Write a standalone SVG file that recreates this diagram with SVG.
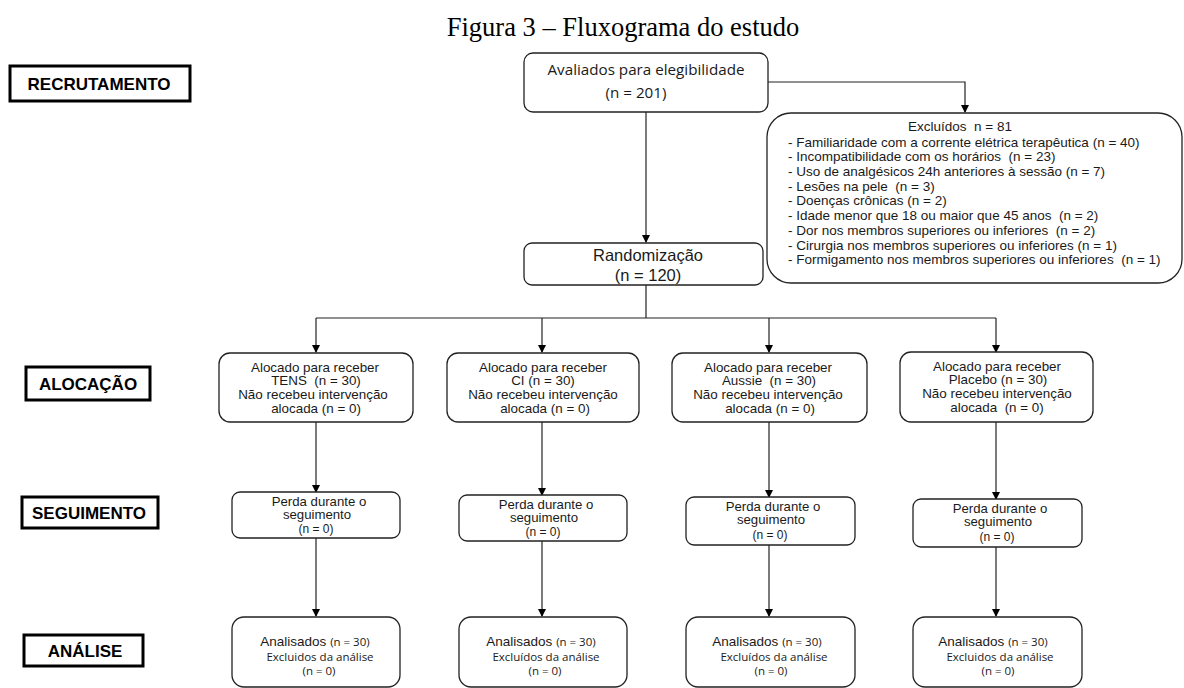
<svg xmlns="http://www.w3.org/2000/svg" width="1184" height="688" viewBox="0 0 1184 688">
<style>
.box{fill:#fff;stroke:#222;stroke-width:1.3}
.lbl{fill:#fff;stroke:#000;stroke-width:3}
.t{font-family:"Liberation Sans",Arial,sans-serif;fill:#1a1a1a;text-anchor:middle}
.s12{font-size:13.4px}
.sg{font-size:13.2px}
.sn{font-size:12px}
.o{font-family:"Open Sans","Liberation Sans",sans-serif;fill:#1a1a1a;text-anchor:middle}
.lt{font-family:"Liberation Sans",Arial,sans-serif;font-weight:bold;font-size:17px;fill:#000;text-anchor:middle}
.ln{fill:none;stroke:#222;stroke-width:1.2}
.ex{font-family:"Liberation Sans",Arial,sans-serif;font-size:13.5px;fill:#1a1a1a}
.a1{font-size:13.5px}
.a2{font-size:11.5px}
</style>
<defs>
<marker id="ah" markerWidth="8" markerHeight="8" refX="7" refY="4" orient="auto" markerUnits="userSpaceOnUse">
<path d="M0,0 L8,4 L0,8 Z" fill="#000"/>
</marker>
</defs>
<rect width="1184" height="688" fill="#fff"/>
<text x="623" y="36" font-family="Liberation Serif,serif" font-size="26.5" text-anchor="middle" fill="#000">Figura 3 – Fluxograma do estudo</text>

<g id="label-recrutamento"><rect class="lbl" x="10" y="66" width="180" height="35"/><text class="lt" x="99" y="90">RECRUTAMENTO</text></g>
<g id="label-alocacao"><rect class="lbl" x="26" y="367" width="124" height="33"/><text class="lt" x="88" y="390">ALOCAÇÃO</text></g>
<g id="label-seguimento"><rect class="lbl" x="22" y="497" width="136" height="31"/><text class="lt" x="89" y="519" font-family="Open Sans,sans-serif" font-size="17.5">SEGUIMENTO</text></g>
<g id="label-analise"><rect class="lbl" x="24" y="635" width="119" height="31"/><text class="lt" x="85" y="657">ANÁLISE</text></g>

<g id="connectors">
<path class="ln" d="M768,82 H965 V112" marker-end="url(#ah)"/>
<path class="ln" d="M646,112 V242" marker-end="url(#ah)"/>
<path class="ln" d="M646,285 V318 M316,318 H996"/>
<path class="ln" d="M316,318 V352" marker-end="url(#ah)"/>
<path class="ln" d="M542,318 V352" marker-end="url(#ah)"/>
<path class="ln" d="M769,318 V352" marker-end="url(#ah)"/>
<path class="ln" d="M996,318 V352" marker-end="url(#ah)"/>
<path class="ln" d="M316,422 V492" marker-end="url(#ah)"/>
<path class="ln" d="M542,422 V495" marker-end="url(#ah)"/>
<path class="ln" d="M769,422 V497" marker-end="url(#ah)"/>
<path class="ln" d="M996,422 V499" marker-end="url(#ah)"/>
<path class="ln" d="M316,538 V616" marker-end="url(#ah)"/>
<path class="ln" d="M542,541 V616" marker-end="url(#ah)"/>
<path class="ln" d="M769,545 V616" marker-end="url(#ah)"/>
<path class="ln" d="M996,547 V616" marker-end="url(#ah)"/>
</g>

<g id="avaliados"><rect class="box" x="524" y="53" width="244" height="59" rx="9"/>
<text class="o" x="646" y="75" font-size="15.2">Avaliados para elegibilidade</text>
<text class="o" x="636" y="98" font-size="15.2">(n = 201)</text></g>

<g id="excluidos"><rect class="box" x="767" y="113" width="415" height="170" rx="24"/>
<text class="ex" x="960" y="131" text-anchor="middle" font-size="15" xml:space="preserve">Excluídos  n = 81</text>
<text class="ex" x="788" y="147">- Familiaridade com a corrente elétrica terapêutica (n = 40)</text>
<text class="ex" x="788" y="161" xml:space="preserve">- Incompatibilidade com os horários  (n = 23)</text>
<text class="ex" x="788" y="176">- Uso de analgésicos 24h anteriores à sessão (n = 7)</text>
<text class="ex" x="788" y="191" xml:space="preserve">- Lesões na pele  (n = 3)</text>
<text class="ex" x="788" y="205">- Doenças crônicas (n = 2)</text>
<text class="ex" x="788" y="220" xml:space="preserve">- Idade menor que 18 ou maior que 45 anos  (n = 2)</text>
<text class="ex" x="788" y="235" xml:space="preserve">- Dor nos membros superiores ou inferiores  (n = 2)</text>
<text class="ex" x="788" y="250">- Cirurgia nos membros superiores ou inferiores (n = 1)</text>
<text class="ex" x="788" y="264" xml:space="preserve">- Formigamento nos membros superiores ou inferiores  (n = 1)</text></g>

<g id="randomizacao"><rect class="box" x="524" y="243" width="239" height="42" rx="8"/>
<text class="t" x="648" y="261" font-size="16.5">Randomização</text>
<text class="t" x="648" y="281" font-size="16.5">(n = 120)</text></g>

<g id="aloc-tens"><rect class="box" x="219" y="353" width="194" height="69" rx="11"/>
<text class="t s12" x="315" y="372">Alocado para receber</text>
<text class="t s12" x="316" y="385" xml:space="preserve">TENS  (n = 30)</text>
<text class="t s12" x="313" y="399">Não recebeu intervenção</text>
<text class="t s12" x="316" y="413">alocada (n = 0)</text></g>
<g id="aloc-ci"><rect class="box" x="447" y="353" width="192" height="69" rx="11"/>
<text class="t s12" x="543" y="372">Alocado para receber</text>
<text class="t s12" x="543" y="385">CI (n = 30)</text>
<text class="t s12" x="543" y="399">Não recebeu intervenção</text>
<text class="t s12" x="545" y="413">alocada (n = 0)</text></g>
<g id="aloc-aussie"><rect class="box" x="672" y="353" width="195" height="69" rx="11"/>
<text class="t s12" x="768" y="372">Alocado para receber</text>
<text class="t s12" x="769" y="385" xml:space="preserve">Aussie  (n = 30)</text>
<text class="t s12" x="768" y="399">Não recebeu intervenção</text>
<text class="t s12" x="770" y="413">alocada (n = 0)</text></g>
<g id="aloc-placebo"><rect class="box" x="900" y="352" width="193" height="70" rx="11"/>
<text class="t s12" x="997" y="371">Alocado para receber</text>
<text class="t s12" x="998" y="384">Placebo (n = 30)</text>
<text class="t s12" x="997" y="398">Não recebeu intervenção</text>
<text class="t s12" x="997" y="412" xml:space="preserve">alocada  (n = 0)</text></g>

<g id="seg-1"><rect class="box" x="232" y="492" width="168" height="46" rx="8"/>
<text class="t sg" x="319" y="506">Perda durante o</text>
<text class="t sg" x="317" y="519">seguimento</text>
<text class="t sn" x="316" y="533">(n = 0)</text></g>
<g id="seg-2"><rect class="box" x="459" y="495" width="168" height="46" rx="8"/>
<text class="t sg" x="546" y="509">Perda durante o</text>
<text class="t sg" x="544" y="522">seguimento</text>
<text class="t sn" x="543" y="536">(n = 0)</text></g>
<g id="seg-3"><rect class="box" x="686" y="497" width="169" height="48" rx="8"/>
<text class="t sg" x="773" y="511">Perda durante o</text>
<text class="t sg" x="771" y="524">seguimento</text>
<text class="t sn" x="770" y="539">(n = 0)</text></g>
<g id="seg-4"><rect class="box" x="913" y="499" width="169" height="48" rx="8"/>
<text class="t sg" x="1000" y="513">Perda durante o</text>
<text class="t sg" x="998" y="526">seguimento</text>
<text class="t sn" x="997" y="541">(n = 0)</text></g>

<g id="an-1"><rect class="box" x="232" y="617" width="168" height="70" rx="12"/>
<text class="t a1" x="315" y="646">Analisados <tspan class="o a2">(n = 30)</tspan></text>
<text class="o a2" x="320" y="661">Excluidos da análise</text>
<text class="o a2" x="319" y="675">(n = 0)</text></g>
<g id="an-2"><rect class="box" x="459" y="617" width="168" height="70" rx="12"/>
<text class="t a1" x="541" y="646">Analisados <tspan class="o a2">(n = 30)</tspan></text>
<text class="o a2" x="546" y="661">Excluídos da análise</text>
<text class="o a2" x="545" y="675">(n = 0)</text></g>
<g id="an-3"><rect class="box" x="686" y="617" width="169" height="70" rx="12"/>
<text class="t a1" x="767" y="646">Analisados <tspan class="o a2">(n = 30)</tspan></text>
<text class="o a2" x="774" y="661">Excluídos da análise</text>
<text class="o a2" x="771" y="675">(n = 0)</text></g>
<g id="an-4"><rect class="box" x="913" y="617" width="169" height="70" rx="12"/>
<text class="t a1" x="993" y="646">Analisados <tspan class="o a2">(n = 30)</tspan></text>
<text class="o a2" x="1000" y="661">Excluidos da análise</text>
<text class="o a2" x="998" y="675">(n = 0)</text></g>
</svg>
